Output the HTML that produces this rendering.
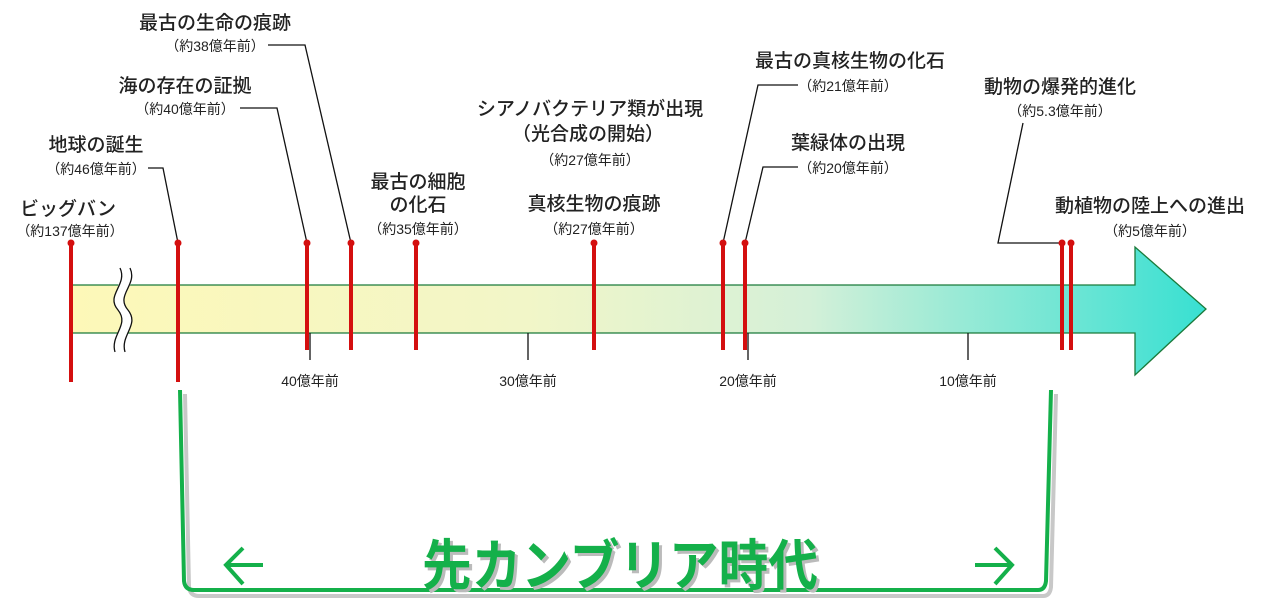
<!DOCTYPE html>
<html><head><meta charset="utf-8"><style>
html,body{margin:0;padding:0;background:#fff;width:1272px;height:610px;overflow:hidden}
svg{display:block}
.m{font-family:"Liberation Sans","Noto Sans CJK JP",sans-serif;font-size:19px;fill:#222;text-anchor:middle;font-weight:500}
.s{font-family:"Liberation Sans","Noto Sans CJK JP",sans-serif;font-size:14px;fill:#222;text-anchor:middle}
.r{stroke:#d40f0f;stroke-width:4}
.k{stroke:#111;stroke-width:1.3;fill:none}
</style></head><body>
<svg width="1272" height="610" viewBox="0 0 1272 610">
<defs>
<linearGradient id="g" x1="0" x2="1" y1="0" y2="0">
<stop offset="0" stop-color="#fdf8b8"/>
<stop offset="0.4" stop-color="#f2f6c8"/>
<stop offset="0.65" stop-color="#d4f0d8"/>
<stop offset="1" stop-color="#38e0d2"/>
</linearGradient>
</defs>
<path d="M71 285 H1135 V247 L1206 309 L1135 375 V333 H71 Z" fill="url(#g)" stroke="#1a7a3a" stroke-width="1.3"/>
<path d="M112 268 C130 285,105 295,118 310 C130 325,110 335,115 352 L125 352 C120 335,140 325,128 310 C115 295,140 285,130 268 Z" fill="#fff"/>
<path class="k" d="M120 268 C128 285,105 295,118 310 C130 325,110 335,115 352"/>
<path class="k" d="M130 268 C138 285,115 295,128 310 C140 325,120 335,125 352"/>
<g class="k"><path d="M310 333V360M528 333V360M748 333V360M968 333V360"/></g>
<g class="s">
<text x="310" y="386">40億年前</text><text x="528" y="386">30億年前</text><text x="748" y="386">20億年前</text><text x="968" y="386">10億年前</text>
</g>
<g class="k">
<path d="M148 168H163L178 243"/>
<path d="M240 108H277L307 243"/>
<path d="M268 45H305L351 243"/>
<path d="M798 85H758L723 243"/>
<path d="M798 167H763L745 243"/>
<path d="M1023 123L998 243H1062"/>
</g>
<g class="r">
<line x1="71" y1="243" x2="71" y2="382"/><line x1="178" y1="243" x2="178" y2="382"/>
<line x1="307" y1="243" x2="307" y2="350"/><line x1="351" y1="243" x2="351" y2="350"/>
<line x1="416" y1="243" x2="416" y2="350"/><line x1="594" y1="243" x2="594" y2="350"/>
<line x1="723" y1="243" x2="723" y2="350"/><line x1="745" y1="243" x2="745" y2="350"/>
<line x1="1062" y1="243" x2="1062" y2="350"/><line x1="1071" y1="243" x2="1071" y2="350"/>
</g>
<g fill="#d40f0f">
<circle cx="71" cy="243" r="3.5"/><circle cx="178" cy="243" r="3.5"/><circle cx="307" cy="243" r="3.5"/><circle cx="351" cy="243" r="3.5"/><circle cx="416" cy="243" r="3.5"/><circle cx="594" cy="243" r="3.5"/><circle cx="723" cy="243" r="3.5"/><circle cx="745" cy="243" r="3.5"/><circle cx="1062" cy="243" r="3.5"/><circle cx="1071" cy="243" r="3.5"/>
</g>
<text class="m" x="215" y="29">最古の生命の痕跡</text><text class="s" x="215" y="51">（約38億年前）</text>
<text class="m" x="185" y="92">海の存在の証拠</text><text class="s" x="185" y="114">（約40億年前）</text>
<text class="m" x="96" y="151">地球の誕生</text><text class="s" x="96" y="174">（約46億年前）</text>
<text class="m" x="68" y="215">ビッグバン</text><text class="s" x="70" y="236">（約137億年前）</text>
<text class="m" x="418" y="188">最古の細胞</text><text class="m" x="418" y="211">の化石</text><text class="s" x="418" y="234">（約35億年前）</text>
<text class="m" x="590" y="115">シアノバクテリア類が出現</text><text class="m" x="588" y="140">（光合成の開始）</text><text class="s" x="590" y="165">（約27億年前）</text>
<text class="m" x="594" y="210">真核生物の痕跡</text><text class="s" x="594" y="234">（約27億年前）</text>
<text class="m" x="850" y="67">最古の真核生物の化石</text><text class="s" x="848" y="91">（約21億年前）</text>
<text class="m" x="848" y="149">葉緑体の出現</text><text class="s" x="848" y="173">（約20億年前）</text>
<text class="m" x="1060" y="93">動物の爆発的進化</text><text class="s" x="1060" y="116">（約5.3億年前）</text>
<text class="m" x="1150" y="212">動植物の陸上への進出</text><text class="s" x="1150" y="236">（約5億年前）</text>
<path d="M182 390 L186 583 Q187 592 196 592 H1040 Q1047 592 1048 583 L1053 390" fill="none" stroke="#c8c8c8" stroke-width="4" transform="translate(3,4)"/>
<path d="M180 390 L184 581 Q185 590 194 590 H1038 Q1045 590 1046 581 L1051 390" fill="none" stroke="#14b04a" stroke-width="4"/>
<g fill="none" stroke="#14b04a" stroke-width="4">
<path d="M263 565H228M243 548L226 565L243 584"/>
<path d="M975 565H1010M995 548L1012 565L995 584"/>
</g>
<text x="620" y="585" style="font-family:'Liberation Sans','Noto Sans CJK JP',sans-serif;font-size:55px;font-weight:bold;fill:#bbb;text-anchor:middle" transform="translate(3,3)" textLength="396" lengthAdjust="spacingAndGlyphs">先カンブリア時代</text>
<text x="620" y="585" style="font-family:'Liberation Sans','Noto Sans CJK JP',sans-serif;font-size:55px;font-weight:bold;fill:#14b04a;text-anchor:middle" textLength="396" lengthAdjust="spacingAndGlyphs">先カンブリア時代</text>
</svg>
</body></html>
